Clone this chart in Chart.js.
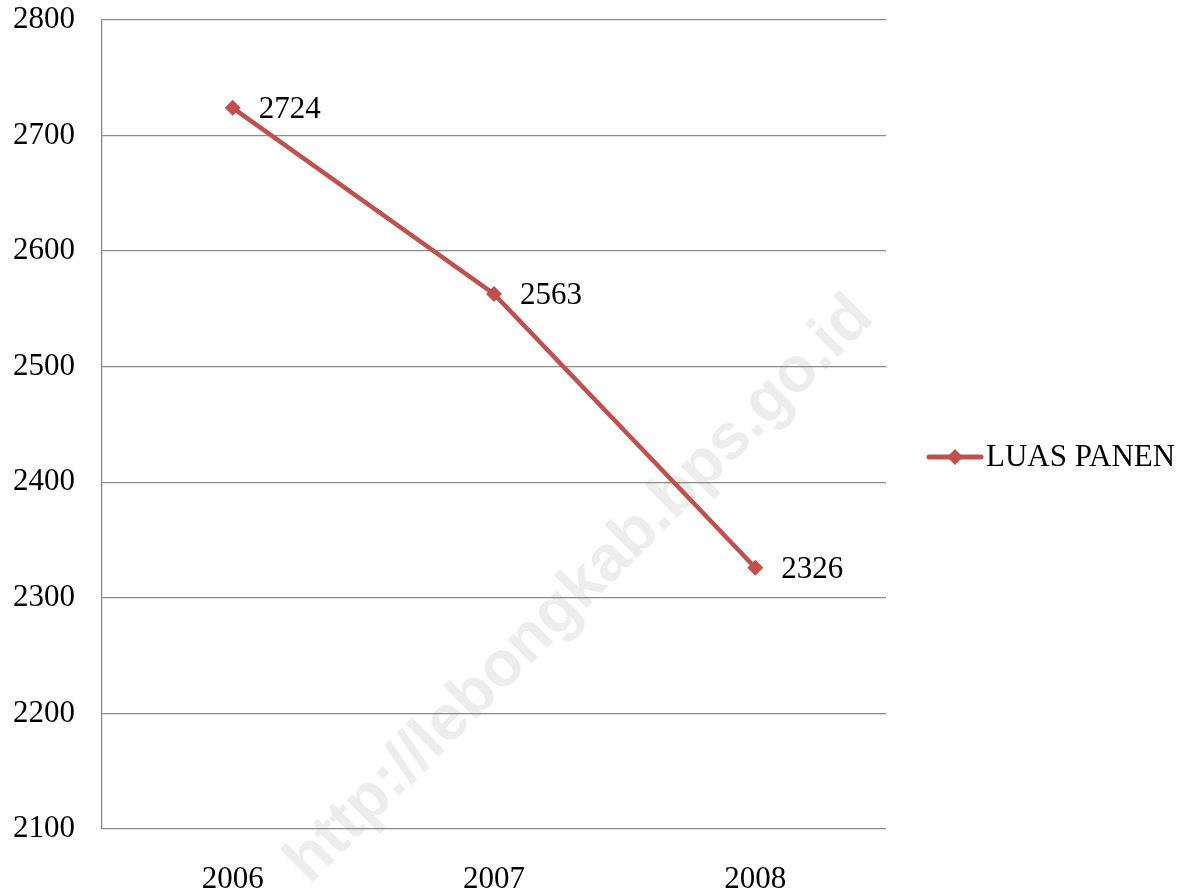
<!DOCTYPE html>
<html>
<head>
<meta charset="utf-8">
<script src="https://cdn.jsdelivr.net/npm/chart.js@4"></script>
<style>
    html, body { margin: 0; padding: 0; background: #fff; }
    #wrap { width: 1192px; height: 890px; }
</style>
</head>
<body>
<div id="wrap"><canvas id="grafico-luas"></canvas></div>
<script>
// Dados do gráfico
const anos = ['2006', '2007', '2008'];
const luasPanen = [2724, 2563, 2326];
const nomeSerie = 'LUAS PANEN';
const eixoMin = 2100;
const eixoMax = 2800;
const eixoPasso = 100;

const corSerie = '#C0504D';
const corGrade = '#8a8a8a';
const fonteSerif = '"Liberation Serif", "Times New Roman", serif';
const tamFonte = 31;

// Marca d'água diagonal (atrás da grade)
const marcaDagua = {
    id: 'marcaDagua',
    beforeDraw: (chart) => {
        const ctx = chart.ctx;
        ctx.save();
        ctx.translate(580, 590);
        ctx.rotate(-Math.PI / 4);
        ctx.font = 'bold 64px "Liberation Sans", Arial, sans-serif';
        ctx.fillStyle = '#ededed';
        ctx.textAlign = 'center';
        ctx.textBaseline = 'middle';
        ctx.fillText('http://lebongkab.bps.go.id', 0, 0);
        ctx.restore();
    }
};

// Rótulos de valor e legenda
const rotulosLegenda = {
    id: 'rotulosLegenda',
    afterDatasetsDraw: (chart) => {
        const ctx = chart.ctx;
        const meta = chart.getDatasetMeta(0);
        ctx.save();
        ctx.font = tamFonte + 'px ' + fonteSerif;
        ctx.fillStyle = '#000';
        ctx.textBaseline = 'middle';
        ctx.textAlign = 'left';
        meta.data.forEach((ponto, i) => {
            ctx.fillText(String(luasPanen[i]), ponto.x + 26, ponto.y + 2);
        });

        // Legenda à direita
        const ly = 457;
        ctx.strokeStyle = corSerie;
        ctx.lineWidth = 5;
        ctx.lineCap = 'round';
        ctx.beginPath();
        ctx.moveTo(929, ly);
        ctx.lineTo(981, ly);
        ctx.stroke();
        ctx.fillStyle = corSerie;
        ctx.beginPath();
        ctx.moveTo(955, ly - 8);
        ctx.lineTo(963, ly);
        ctx.lineTo(955, ly + 8);
        ctx.lineTo(947, ly);
        ctx.closePath();
        ctx.fill();
        ctx.fillStyle = '#000';
        ctx.font = tamFonte + 'px ' + fonteSerif;
        ctx.fillText(nomeSerie, 986, ly + 1);
        ctx.restore();
    }
};

const ctx = document.getElementById('grafico-luas').getContext('2d');
new Chart(ctx, {
    type: 'line',
    data: {
        labels: anos,
        datasets: [{
            label: nomeSerie,
            data: luasPanen,
            borderColor: corSerie,
            backgroundColor: corSerie,
            borderWidth: 4.5,
            pointStyle: 'rectRot',
            pointRadius: 8,
            pointBorderWidth: 0,
            tension: 0
        }]
    },
    options: {
        responsive: true,
        maintainAspectRatio: false,
        animation: false,
        layout: {
            padding: { left: 0, top: 20, right: 306, bottom: 0 }
        },
        scales: {
            x: {
                offset: true,
                grid: { display: false, offset: true },
                border: { display: false },
                ticks: {
                    color: '#000',
                    padding: 24,
                    font: { family: fonteSerif, size: tamFonte }
                },
                afterFit: (escala) => {
                    escala.height = 61;
                    escala.paddingLeft = 0;
                    escala.paddingRight = 0;
                }
            },
            y: {
                min: eixoMin,
                max: eixoMax,
                grid: {
                    color: corGrade,
                    lineWidth: 1.3,
                    drawTicks: false
                },
                border: { display: true, color: corGrade, width: 1.3 },
                ticks: {
                    stepSize: eixoPasso,
                    color: '#000',
                    padding: 27,
                    font: { family: fonteSerif, size: tamFonte },
                    callback: (valor) => String(valor)
                },
                afterFit: (escala) => {
                    escala.width = 102;
                    escala.paddingTop = 0;
                    escala.paddingBottom = 0;
                }
            }
        },
        plugins: {
            legend: { display: false },
            tooltip: { enabled: false }
        }
    },
    plugins: [marcaDagua, rotulosLegenda]
});
</script>
</body>
</html>
